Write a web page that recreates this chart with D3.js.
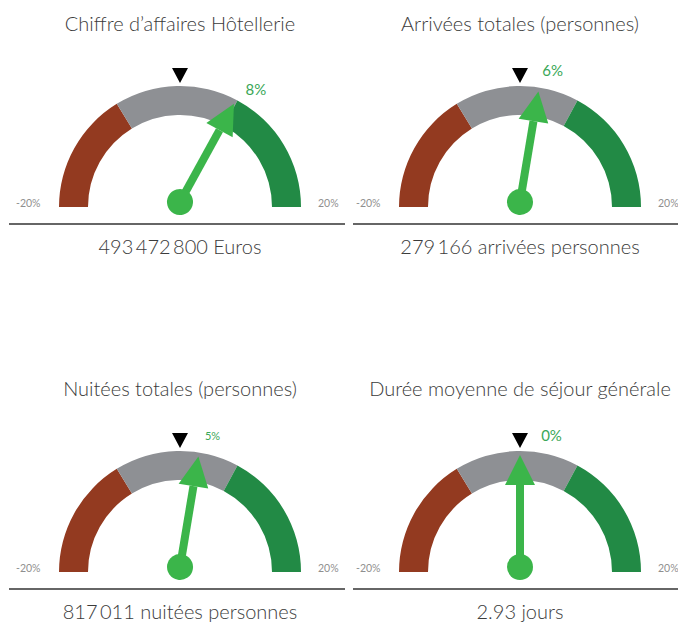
<!DOCTYPE html>
<html>
<head>
<meta charset="utf-8">
<script src="https://cdn.jsdelivr.net/npm/d3@7"></script>
<style>
  body { margin: 0; background: #fff; }
  text { font-family: Lato, "Open Sans", sans-serif; }
</style>
</head>
<body>
<script>
"use strict";
// gauge data
const titles = ["Chiffre d’affaires Hôtellerie", "Arrivées totales (personnes)",
                "Nuitées totales (personnes)", "Durée moyenne de séjour générale"];
const changes = [8, 6, 5, 0];            // % printed above each gauge
const needlePos = [6.4, 2.1, 2.1, 0];    // where the needle points on the -20..20 scale
const totals = ["493\u2009472\u2009800 Euros", "279\u2009166 arrivées personnes",
                "817\u2009011 nuitées personnes", "2.93 jours"];
const scaleEnds = [-20, 20];
const bandEdges = [-20, -7, 6.3, 20];
const bandColors = ["#933a20", "#8e9094", "#228a45"];
const labelSizes = [15, 15, 11, 15];

let svg = d3.select("body")
            .append("svg")
            .attr("width", 678)
            .attr("height", 624)

let angle = d3.scaleLinear()
              .domain(scaleEnds)
              .range([-Math.PI / 2, Math.PI / 2])

let arc = d3.arc()
            .innerRadius(92)
            .outerRadius(121)

const needleLen = 112, headLen = 30, headW = 30;

titles.forEach((title, i) => {
    let col = i % 2, row = Math.floor(i / 2);
    let cx = 180 + col * 340, cy = 207 + row * 365;
    let g = svg.append("g").attr("transform", `translate(${cx},${cy})`);

    g.append("text")
     .attr("x", 0).attr("y", -176)
     .attr("text-anchor", "middle")
     .attr("font-size", 20).attr("font-weight", 300)
     .attr("fill", "#3b3b3b")
     .text(title);

    // colour bands
    g.selectAll("path.band")
     .data(d3.pairs(bandEdges))
     .enter()
     .append("path")
     .attr("class", "band")
     .attr("fill", (d, k) => bandColors[k])
     .attr("d", (d) => arc({startAngle: angle(d[0]), endAngle: angle(d[1])}));

    // reference marker
    g.append("path")
     .attr("d", "M-8,-139L8,-139L0,-124Z")
     .attr("fill", "#000");

    // min / max
    g.selectAll("text.end")
     .data(scaleEnds)
     .enter()
     .append("text")
     .attr("class", "end")
     .attr("x", (d) => d < 0 ? -164 : 138)
     .attr("y", 0)
     .attr("font-size", 10.5)
     .attr("fill", "#8f8f8f")
     .text((d) => d + "%");

    // needle
    let deg = angle(needlePos[i]) * 180 / Math.PI;
    let needle = g.append("g").attr("transform", `translate(0,-5) rotate(${deg})`);
    needle.append("rect")
          .attr("x", -4).attr("y", -(needleLen - headLen))
          .attr("width", 8).attr("height", needleLen - headLen)
          .attr("fill", "#3bb54a");
    needle.append("path")
          .attr("d", `M${-headW / 2},${-(needleLen - headLen)}L${headW / 2},${-(needleLen - headLen)}L0,${-needleLen}Z`)
          .attr("fill", "#3bb54a");
    needle.append("circle")
          .attr("r", 13)
          .attr("fill", "#3bb54a");

    // change label
    let la = Math.max(deg + 4, 13) * Math.PI / 180;
    g.append("text")
     .attr("x", 140 * Math.sin(la))
     .attr("y", -140 * Math.cos(la))
     .attr("dy", "0.35em")
     .attr("text-anchor", "middle")
     .attr("font-size", labelSizes[i])
     .attr("fill", "#3aa757")
     .text(changes[i] + "%");

    // rule + total
    let x0 = 9 + col * 344 - cx;
    g.append("line")
     .attr("x1", x0).attr("x2", x0 + 336)
     .attr("y1", 17).attr("y2", 17)
     .attr("stroke", "#333").attr("stroke-width", 1.5);

    g.append("text")
     .attr("x", 0).attr("y", 47)
     .attr("text-anchor", "middle")
     .attr("font-size", 20).attr("font-weight", 300)
     .attr("fill", "#3b3b3b")
     .text(totals[i]);
})
</script>
</body>
</html>
